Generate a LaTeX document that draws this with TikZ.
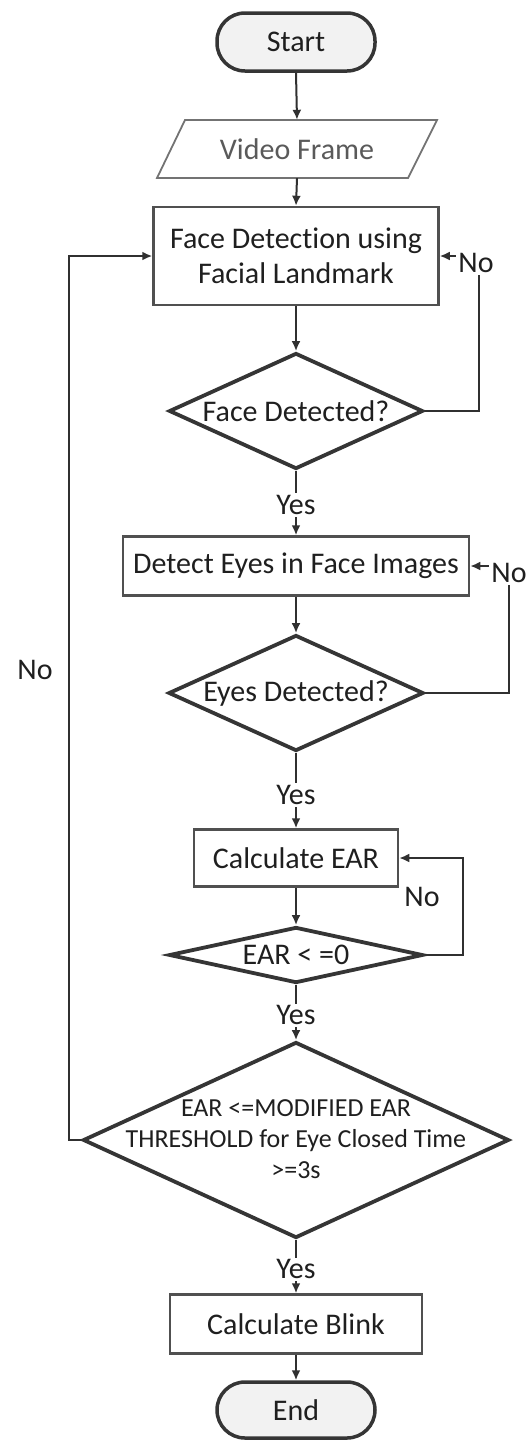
\documentclass[tikz,border=0pt]{standalone}
\usepackage{fontspec}
\setmainfont{Carlito}[Ligatures=NoCommon]
\usetikzlibrary{arrows.meta,shapes.geometric,calc}
\definecolor{txtc}{HTML}{1F1F1F}
\definecolor{boxc}{HTML}{505050}
\definecolor{dkc}{HTML}{353535}
\definecolor{linec}{HTML}{303030}
\definecolor{termfill}{HTML}{F2F2F2}
\definecolor{vfc}{HTML}{5A5A5A}
\tikzset{
  every node/.style={text=txtc, font=\fontsize{30}{35}\selectfont, inner sep=0pt},
  term/.style={rectangle, draw=dkc, fill=termfill, line width=3.5pt, minimum width=158pt, minimum height=58pt, rounded corners=28pt},
  procbox/.style={rectangle, draw=boxc, line width=2.5pt},
  dia/.style={diamond, draw=dkc, line width=3.8pt, inner sep=0pt},
  conn/.style={draw=linec, line width=2pt, -{Latex[length=10pt,width=9pt]}},
  lbl/.style={fill=white, inner sep=2pt},
  lblnf/.style={inner sep=0pt}
}
\begin{document}
\begin{tikzpicture}[x=1pt,y=-1pt]
\useasboundingbox (0,0) rectangle (528,1441);
% Start
\node[term] (st) at (296,42) {Start};
% Video frame (parallelogram)
\node[minimum width=250pt, minimum height=58pt] (vf) at (297,149) {};
\draw[draw=boxc!80, line width=1.8pt] (185,120) -- (437,120) -- (408,178) -- (157,178) -- cycle;
\node[text=vfc] (vft) at (297,149) {Video Frame};
% Face detection
\node[procbox, minimum width=285pt, minimum height=98pt, align=center] (fd) at (296,256) {Face Detection using\\Facial Landmark};
% Face detected diamond
\node[dia, minimum width=254pt, minimum height=116pt] (d1) at (296,411) {};
\node (d1t) at (296,411) {Face Detected?};
% Detect eyes
\node[procbox, minimum width=346pt, minimum height=59pt] (de) at (296,566) {Detect Eyes in Face Images};
% Eyes detected diamond
\node[dia, minimum width=255pt, minimum height=116pt] (d2) at (296,693) {};
\node (d2t) at (296,693) {Eyes Detected?};
% Calculate EAR
\node[procbox, minimum width=204pt, minimum height=57pt] (ce) at (296,858) {Calculate EAR};
% EAR <=0
\node[dia, minimum width=254pt, minimum height=56pt] (d3) at (296,955) {};
\node (d3t) at (296,955) {EAR < =0};
% Big diamond
\node[dia, minimum width=426pt, minimum height=196pt] (d4) at (296,1140) {};
\node[font=\fontsize{26}{31}\selectfont, align=center] (d4t) at (296,1139) {EAR <=MODIFIED EAR\\THRESHOLD for Eye Closed Time\\>=3s};
% Calculate blink
\node[procbox, minimum width=252pt, minimum height=59pt] (cb) at (296,1324) {Calculate Blink};
% End
\node[term, minimum height=56pt] (en) at (296,1410) {End};

% connectors
\draw[conn] (st.south) -- (vf.north);
\draw[conn] (vf.south) -- (fd.north);
\draw[conn] (fd.south) -- (d1.north);
\draw[conn] (d1.east) -| ($(fd.east)+(39,0)$) -- (fd.east);
\node[lbl] (no1) at (476,263) {No};
\draw[conn] (d1.south) -- (de.north) node[lbl, pos=0.53] (y1) {Yes};
\draw[conn] (de.south) -- (d2.north);
\draw[conn] (d2.east) -| ($(de.east)+(39,0)$) -- (de.east);
\node[lbl] (no2) at (509,573) {No};
\draw[conn] (d2.south) -- (ce.north) node[lbl, pos=0.56] (y2) {Yes};
\draw[conn] (ce.south) -- (d3.north);
\draw[conn] (d3.east) -| ($(ce.east)+(64,0)$) -- (ce.east);
\node[lblnf] (no3) at (422,897) {No};
\draw[conn] (d3.south) -- (d4.north) node[lbl, pos=0.55] (y3) {Yes};
\draw[conn] (d4.west) -| ($(fd.west)+(-83,0)$) -- (fd.west);
\node[lblnf] (no4) at (35,670) {No};
\draw[conn] (d4.south) -- (cb.north) node[lbl, pos=0.55] (y4) {Yes};
\draw[conn] (cb.south) -- (en.north);
\end{tikzpicture}
\end{document}
